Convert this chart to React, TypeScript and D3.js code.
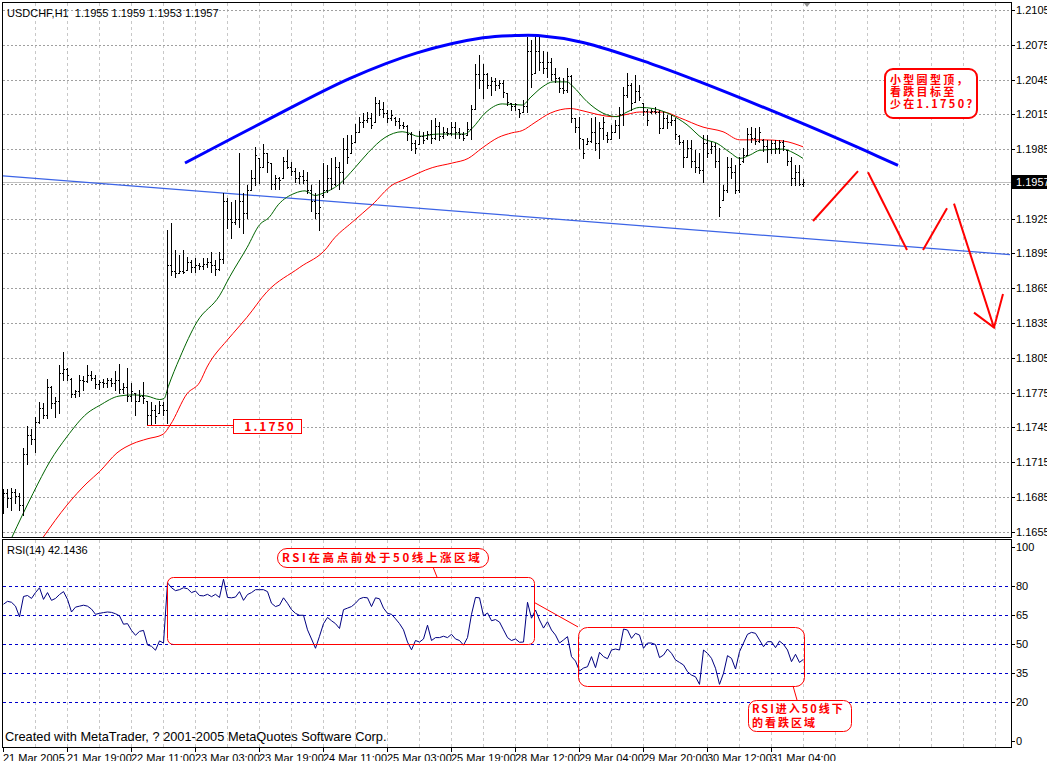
import React from 'react';
import * as d3 from 'd3';

// USDCHF H1 bars: [open, high, low, close]
const bars: [number, number, number, number][] = [
  [1.1685, 1.1692, 1.1671, 1.1688], [1.1688, 1.1692, 1.1676, 1.1684], [1.1684, 1.1693, 1.1674, 1.1689], [1.1689, 1.1692, 1.168, 1.1686],
  [1.1686, 1.1688, 1.1674, 1.1678], [1.1678, 1.1727, 1.1669, 1.1722], [1.1722, 1.1746, 1.1713, 1.1738], [1.1738, 1.1744, 1.1731, 1.1735],
  [1.1735, 1.1754, 1.1724, 1.175], [1.175, 1.1767, 1.1749, 1.1762], [1.1762, 1.1766, 1.1753, 1.1756], [1.1756, 1.1787, 1.1753, 1.178],
  [1.178, 1.1781, 1.1762, 1.1766], [1.1766, 1.1771, 1.1754, 1.1768], [1.1768, 1.1799, 1.1757, 1.1792], [1.1792, 1.181, 1.1786, 1.1795],
  [1.1795, 1.1796, 1.1786, 1.179], [1.1787, 1.1788, 1.1771, 1.1774], [1.1774, 1.1777, 1.1771, 1.1776], [1.1776, 1.179, 1.1772, 1.1786],
  [1.1786, 1.1789, 1.1777, 1.1785], [1.1785, 1.1799, 1.1784, 1.179], [1.179, 1.1794, 1.1786, 1.1788], [1.1788, 1.179, 1.1779, 1.1782],
  [1.1782, 1.1786, 1.1778, 1.1784], [1.1784, 1.1787, 1.178, 1.1783], [1.1783, 1.1788, 1.178, 1.1786], [1.1786, 1.1788, 1.1781, 1.1783],
  [1.1783, 1.1794, 1.1777, 1.1786], [1.1786, 1.18, 1.1775, 1.1778], [1.1778, 1.1783, 1.1775, 1.178], [1.178, 1.1796, 1.1768, 1.1772],
  [1.1772, 1.1783, 1.1768, 1.1776], [1.1775, 1.1775, 1.1756, 1.1768], [1.1768, 1.1777, 1.1768, 1.1772], [1.1772, 1.1784, 1.1766, 1.177],
  [1.1768, 1.1768, 1.1747, 1.1756], [1.1756, 1.1767, 1.1747, 1.176], [1.176, 1.1764, 1.1749, 1.1755], [1.1757, 1.1768, 1.1757, 1.1764],
  [1.1764, 1.1767, 1.1756, 1.176], [1.176, 1.1915, 1.1749, 1.1885], [1.1885, 1.1921, 1.1876, 1.188], [1.188, 1.1898, 1.1875, 1.1878],
  [1.1878, 1.1894, 1.1878, 1.188], [1.188, 1.1898, 1.1878, 1.1879], [1.1881, 1.1892, 1.1881, 1.1888], [1.1888, 1.1889, 1.1879, 1.1883],
  [1.1883, 1.1891, 1.1879, 1.1885], [1.1885, 1.1887, 1.1882, 1.1884], [1.1884, 1.1891, 1.1882, 1.1886], [1.1886, 1.1891, 1.1883, 1.1888],
  [1.1888, 1.1896, 1.1879, 1.1885], [1.1885, 1.1889, 1.1876, 1.1882], [1.1882, 1.1896, 1.1881, 1.189], [1.189, 1.1947, 1.1887, 1.194],
  [1.194, 1.1943, 1.1917, 1.1925], [1.1925, 1.1939, 1.1908, 1.1922], [1.1922, 1.1941, 1.192, 1.1925], [1.1925, 1.1982, 1.1918, 1.194],
  [1.194, 1.1947, 1.1913, 1.193], [1.193, 1.1954, 1.1926, 1.195], [1.195, 1.1967, 1.195, 1.196], [1.196, 1.1987, 1.1954, 1.198],
  [1.1977, 1.1977, 1.1956, 1.197], [1.197, 1.1989, 1.197, 1.1982], [1.1982, 1.1982, 1.1965, 1.1974], [1.1973, 1.1973, 1.1951, 1.1955],
  [1.1955, 1.1963, 1.1951, 1.196], [1.196, 1.1961, 1.1951, 1.1958], [1.196, 1.1978, 1.196, 1.1975], [1.1975, 1.1984, 1.1969, 1.197],
  [1.197, 1.1974, 1.1963, 1.1966], [1.1966, 1.1969, 1.1957, 1.196], [1.196, 1.1965, 1.1956, 1.1962], [1.1962, 1.1967, 1.1956, 1.1958],
  [1.1958, 1.1965, 1.1947, 1.195], [1.195, 1.1954, 1.1932, 1.194], [1.194, 1.1947, 1.1926, 1.193], [1.193, 1.1958, 1.1915, 1.1935],
  [1.1945, 1.1973, 1.1944, 1.195], [1.195, 1.1971, 1.1948, 1.196], [1.196, 1.1977, 1.1951, 1.1955], [1.1955, 1.1978, 1.1954, 1.197],
  [1.197, 1.1974, 1.1951, 1.1965], [1.1965, 1.1995, 1.1956, 1.1985], [1.1985, 1.1997, 1.1973, 1.1978], [1.1982, 1.1997, 1.1982, 1.199],
  [1.1991, 1.2007, 1.1991, 1.2], [1.2, 1.2013, 1.2, 1.2008], [1.2008, 1.2016, 1.2004, 1.201], [1.201, 1.2017, 1.2008, 1.2012],
  [1.2012, 1.2016, 1.2003, 1.2006], [1.2008, 1.203, 1.2008, 1.2025], [1.2025, 1.2027, 1.2014, 1.202], [1.202, 1.2026, 1.2013, 1.2016],
  [1.2016, 1.2019, 1.2008, 1.2012], [1.2012, 1.2019, 1.201, 1.2014], [1.2012, 1.2013, 1.2006, 1.2009], [1.2009, 1.2012, 1.2003, 1.2006],
  [1.2006, 1.2008, 1.2003, 1.2005], [1.2005, 1.2006, 1.1993, 1.1998], [1.1998, 1.2, 1.1984, 1.199], [1.199, 1.1993, 1.1982, 1.1986],
  [1.1989, 1.2001, 1.1989, 1.1996], [1.1996, 1.2, 1.199, 1.1993], [1.1995, 1.2001, 1.1994, 1.1998], [1.1998, 1.201, 1.199, 1.1995],
  [1.1995, 1.2012, 1.1994, 1.2005], [1.2005, 1.2008, 1.1993, 1.1996], [1.1996, 1.2004, 1.1995, 1.2], [1.2, 1.2003, 1.1997, 1.1999],
  [1.1999, 1.2008, 1.1997, 1.2004], [1.2004, 1.2008, 1.1995, 1.2], [1.2, 1.2003, 1.1995, 1.1998], [1.1998, 1.2, 1.1993, 1.1995],
  [1.1997, 1.2008, 1.1997, 1.2002], [1.2002, 1.2023, 1.1994, 1.202], [1.202, 1.2058, 1.202, 1.205], [1.205, 1.2066, 1.2038, 1.2045],
  [1.2045, 1.2058, 1.2029, 1.205], [1.205, 1.2051, 1.2038, 1.204], [1.204, 1.2047, 1.2032, 1.2044], [1.2044, 1.2046, 1.2036, 1.204],
  [1.204, 1.2045, 1.2038, 1.2042], [1.2042, 1.2045, 1.203, 1.2034], [1.2033, 1.2033, 1.2023, 1.2026], [1.2025, 1.2025, 1.2019, 1.2022],
  [1.2022, 1.2025, 1.2019, 1.2024], [1.202, 1.202, 1.2013, 1.2016], [1.2017, 1.2027, 1.2017, 1.2022], [1.2022, 1.2082, 1.2017, 1.207],
  [1.207, 1.2079, 1.2039, 1.205], [1.2051, 1.2082, 1.2051, 1.207], [1.207, 1.2083, 1.2053, 1.206], [1.206, 1.207, 1.2051, 1.2055],
  [1.2055, 1.2069, 1.2047, 1.206], [1.206, 1.2064, 1.2045, 1.205], [1.205, 1.2055, 1.2043, 1.2046], [1.2046, 1.2047, 1.2034, 1.2038],
  [1.2038, 1.2046, 1.2033, 1.2036], [1.2036, 1.2055, 1.2034, 1.2048], [1.2048, 1.2049, 1.2008, 1.2012], [1.2012, 1.2012, 1.2, 1.2004],
  [1.2004, 1.2013, 1.1986, 1.1995], [1.1994, 1.1994, 1.1977, 1.1982], [1.1989, 1.1995, 1.1989, 1.1992], [1.1992, 1.2012, 1.1991, 1.2],
  [1.2, 1.2013, 1.1984, 1.199], [1.199, 1.2008, 1.1977, 1.2003], [1.2003, 1.2013, 1.1994, 1.2008], [1.1997, 1.2, 1.1991, 1.1994],
  [1.1994, 1.2006, 1.1994, 1.2], [1.2, 1.201, 1.2, 1.2006], [1.2006, 1.2021, 1.1995, 1.2015], [1.2015, 1.2039, 1.2006, 1.2032],
  [1.2032, 1.2051, 1.203, 1.204], [1.204, 1.2042, 1.2019, 1.2025], [1.2026, 1.2049, 1.2026, 1.2035], [1.2035, 1.204, 1.2027, 1.203],
  [1.2025, 1.2025, 1.2014, 1.2018], [1.2018, 1.202, 1.2006, 1.201], [1.2017, 1.202, 1.2016, 1.2018], [1.2018, 1.2021, 1.2016, 1.2017],
  [1.2017, 1.2019, 1.1999, 1.2003], [1.2003, 1.2017, 1.2003, 1.2012], [1.2012, 1.2014, 1.2003, 1.2008], [1.2008, 1.2014, 1.2006, 1.201],
  [1.201, 1.2012, 1.1994, 1.1998], [1.1996, 1.1997, 1.1989, 1.1991], [1.1991, 1.1993, 1.197, 1.1978], [1.1978, 1.1993, 1.1978, 1.1986],
  [1.1986, 1.1993, 1.197, 1.1975], [1.1975, 1.1984, 1.1965, 1.197], [1.197, 1.1982, 1.1964, 1.1967], [1.1967, 1.1997, 1.1957, 1.199],
  [1.199, 1.1997, 1.1978, 1.1982], [1.1985, 1.1991, 1.1982, 1.1988], [1.1988, 1.199, 1.197, 1.1975], [1.1975, 1.1986, 1.1927, 1.1935],
  [1.1941, 1.1954, 1.1941, 1.195], [1.195, 1.1978, 1.1948, 1.197], [1.197, 1.1977, 1.196, 1.1965], [1.1965, 1.1971, 1.1947, 1.195],
  [1.195, 1.1978, 1.1948, 1.1972], [1.1975, 1.1986, 1.1974, 1.198], [1.198, 1.2003, 1.198, 1.1998], [1.1998, 1.2004, 1.1991, 1.1995],
  [1.1995, 1.2003, 1.1989, 1.1992], [1.1992, 1.2004, 1.1991, 1.2], [1.1993, 1.1994, 1.1983, 1.1988], [1.1988, 1.1993, 1.1974, 1.1985],
  [1.1985, 1.1993, 1.1982, 1.199], [1.199, 1.1993, 1.1982, 1.1986], [1.1986, 1.1993, 1.1982, 1.1991], [1.1991, 1.1993, 1.1984, 1.1988],
  [1.1984, 1.1984, 1.1971, 1.1975], [1.1975, 1.1978, 1.1954, 1.196], [1.196, 1.1971, 1.1954, 1.1965], [1.1965, 1.1971, 1.1954, 1.1955],
  [1.1955, 1.1959, 1.1953, 1.1957],
];

// moving averages sampled along the lines: [bar index, price]
const fastMa: [number, number][] = [
  [2.2, 1.165], [7.5, 1.1688], [11.8, 1.1716], [16, 1.1737], [21, 1.1757], [24.2, 1.1764], [29, 1.1772], [32.5, 1.1773],
  [36, 1.1772], [39.2, 1.1769], [40.3, 1.177], [41.3, 1.178], [44.2, 1.1805], [48.5, 1.1836], [54.2, 1.1859], [56.7, 1.1875],
  [61, 1.19], [64.2, 1.192], [66.5, 1.1926], [68.8, 1.1937], [73, 1.1947], [75.5, 1.1949], [78, 1.1945], [80, 1.1947],
  [83.8, 1.1954], [88, 1.1969], [91.3, 1.1982], [95.5, 1.1995], [99.8, 1.2], [101.3, 1.1999], [103.8, 1.1996], [108.8, 1.1998],
  [115.5, 1.1998], [117.3, 1.2003], [120.5, 1.2016], [124.8, 1.2024], [129.8, 1.2023], [132, 1.203], [135, 1.2039], [137.5, 1.2043],
  [141, 1.2043], [142.5, 1.2039], [146, 1.2026], [150, 1.2016], [153.5, 1.2013], [156, 1.2017], [159.2, 1.2021], [162.5, 1.202],
  [166.8, 1.2015], [171, 1.2006], [175, 1.1994], [178.5, 1.199], [181.8, 1.1982], [184.2, 1.1977], [186.8, 1.198], [189.2, 1.1984],
  [195, 1.1985], [197.5, 1.1982], [200, 1.1977],
];

const slowMa: [number, number][] = [
  [10, 1.165], [16, 1.1678], [21, 1.1697], [24.2, 1.1707], [28.5, 1.1723], [32.5, 1.1731], [36, 1.1735], [40, 1.1739],
  [41.8, 1.1747], [46, 1.1774], [49.2, 1.1784], [51, 1.1797], [56, 1.182], [57.5, 1.1826], [61, 1.184], [66, 1.1862],
  [74.2, 1.1883], [81, 1.19], [82.3, 1.1906], [87.3, 1.1922], [92.3, 1.1937], [97.3, 1.1954], [100.5, 1.1959], [107.3, 1.1969],
  [112.3, 1.1973], [116.3, 1.1977], [119.8, 1.1986], [123.8, 1.1995], [127.2, 1.1999], [129.8, 1.2001], [133, 1.2008], [136.8, 1.2016],
  [141.8, 1.202], [145, 1.2018], [148.5, 1.2015], [152.5, 1.2013], [156, 1.2015], [159.2, 1.2017], [165, 1.2017], [169.2, 1.2012],
  [175, 1.2004], [180, 1.2], [184.2, 1.1993], [190, 1.1993], [195, 1.1992], [200, 1.1987],
];

// RSI(14), one value per bar
const rsiValues = [
  70.5, 72, 71.5, 69.5, 64, 74.5, 75, 73.5, 76.5, 79, 73, 76.5, 72.5, 73.5, 75.5, 77, 73, 66.5, 69, 69.5,
  70, 69.5, 68, 65.3, 65.8, 66.2, 66.5, 66.3, 65.6, 64.5, 60.2, 60.5, 57, 54.5, 56.5, 57, 49.5, 48.8, 46.8, 51.6,
  50.5, 81.5, 79, 77.5, 78, 79, 78.5, 76.5, 77.3, 75, 74.8, 75.6, 74.4, 75.6, 74, 83.4, 74, 73.8, 74.2, 77,
  72.5, 75.5, 76.5, 78, 78, 78, 77, 71, 69.3, 70, 73.8, 71, 67.7, 65.8, 64.8, 64.8, 57.3, 52.6, 47.8, 54,
  60.5, 63.7, 62, 60.5, 58, 67.7, 68.5, 69.3, 71, 73.3, 74, 73.8, 69.3, 73.8, 73.3, 68.5, 65.8, 65.3, 63, 60.5,
  57.3, 51, 47, 51.8, 51, 52.6, 59.7, 51.8, 53.3, 53.3, 54, 53.3, 55, 52.6, 51.8, 49.4, 53.3, 65.3, 74, 73.8,
  64.5, 66, 62, 62.6, 61.3, 57.3, 53.3, 51.8, 52.6, 50.9, 51, 71.5, 63.3, 67.5, 62.4, 58.2, 61.5, 57.2, 54.6, 50.5,
  52.1, 53.8, 43.5, 41.2, 36.1, 37.6, 38.3, 43.5, 37.8, 45.7, 43.5, 42.4, 46.9, 47.4, 46.9, 57.7, 57.2, 52.9, 55.5, 54.6,
  47.8, 50.5, 50.5, 49.7, 43, 44.3, 47.4, 45.2, 41.8, 40.5, 39.2, 35.7, 34, 33.1, 29.2, 46.9, 45.2, 42.6, 37.5, 29.2,
  34.9, 44, 42.6, 37.1, 46, 50.5, 55, 56, 55.5, 52.1, 48.6, 51.2, 51.2, 48.1, 51.5, 49.8, 46.9, 40.9, 44.7, 40.5,
  42.1,
];

const priceTicks = [1.2105, 1.2075, 1.2045, 1.2015, 1.1985, 1.1955, 1.1925, 1.1895, 1.1865, 1.1835, 1.1805, 1.1775, 1.1745, 1.1715, 1.1685, 1.1655];
const rsiLevels = [80, 65, 50, 35, 20];
const rsiTicks = [100, 80, 65, 50, 35, 20, 0];
const timeLabels = [
  '21 Mar 2005', '21 Mar 19:00', '22 Mar 11:00', '23 Mar 03:00', '23 Mar 19:00', '24 Mar 11:00', '25 Mar 03:00',
  '25 Mar 19:00', '28 Mar 12:00', '29 Mar 04:00', '29 Mar 20:00', '30 Mar 12:00', '31 Mar 04:00',
];

// drawn objects: [bar index, price]
const roundTop: [number, number][] = [
  [45.5, 1.1973], [66, 1.201], [86.75, 1.2046], [103.5, 1.2068], [120, 1.2081], [128, 1.2083], [133.75, 1.2083],
  [145, 1.2077], [161.75, 1.2059], [174.25, 1.2043], [199.25, 1.2008], [216, 1.1983], [223.75, 1.1971],
];
const trendLine: [number, number][] = [[0, 1.1962], [251.75, 1.1894]];
const forecast: [number, number][][] = [
  [[202.5, 1.1923], [213.75, 1.1966]],
  [[216.25, 1.1965], [226, 1.1898]],
  [[230, 1.1898], [236, 1.1934]],
  [[237.75, 1.1938], [247.75, 1.1831]],
  [[242.75, 1.1844], [247.75, 1.1831], [250, 1.186]],
];
const supportLevel = 1.1747;
const supportSpan = [36, 57.5];
const lastPrice = 1.1957;
const rsiZones = [
  { from: 41, to: 132.75, top: 84.5, bottom: 50 },
  { from: 143.75, to: 200.25, top: 58.8, bottom: 28.4 },
];

const W = 1047;
const H = 761;
const AXIS_X = 1011;
const MAIN_BOTTOM = 537;
const RSI_TOP = 539;
const RSI_BOTTOM = 747;
const FONT = '"Liberation Sans", Arial, sans-serif';
const CJK = '"Noto Sans CJK SC", sans-serif';

export default function App() {
  const x = d3.scaleLinear().domain([0, 251.75]).range([3, 1010]);
  const yP = d3.scaleLinear().domain([1.1655, 1.2105]).range([531.7, 10]);
  const yR = d3.scaleLinear().domain([0, 100]).range([741, 547]);

  const priceLine = d3
    .line<[number, number]>()
    .x((d) => x(d[0]))
    .y((d) => yP(d[1]))
    .curve(d3.curveMonotoneX);
  const straight = d3
    .line<[number, number]>()
    .x((d) => x(d[0]))
    .y((d) => yP(d[1]));
  const arcLine = d3
    .line<[number, number]>()
    .x((d) => x(d[0]))
    .y((d) => yP(d[1]))
    .curve(d3.curveCatmullRom);
  const rsiLine = d3
    .line<number>()
    .x((_, i) => x(i) + 0.5)
    .y((d) => yR(d));

  const gridX = d3.range(8, 252, 8).map((i) => Math.round(x(i)) + 0.5);
  const px = (v: number) => Math.round(v) + 0.5;

  return (
    <svg
      width={W}
      height={H}
      style={{ position: 'absolute', left: 0, top: 0, background: '#fff' }}
      fontFamily={FONT}
    >
      <defs>
        <clipPath id="mainClip">
          <rect x={3} y={3} width={AXIS_X - 3} height={MAIN_BOTTOM - 3} />
        </clipPath>
        <clipPath id="rsiClip">
          <rect x={3} y={RSI_TOP + 1} width={AXIS_X - 3} height={RSI_BOTTOM - RSI_TOP - 1} />
        </clipPath>
      </defs>
      <rect x={0} y={0} width={W} height={H} fill="#fff" />

      {/* grid */}
      <g shapeRendering="crispEdges">
        {gridX.map((gx) => (
          <g key={gx}>
            <line x1={gx} x2={gx} y1={3} y2={MAIN_BOTTOM} stroke="#c8c8c8" strokeDasharray="3,3" />
            <line x1={gx} x2={gx} y1={RSI_TOP + 1} y2={RSI_BOTTOM} stroke="#c8c8c8" strokeDasharray="3,3" />
          </g>
        ))}
        {priceTicks.map((p) => (
          <line key={p} x1={3} x2={AXIS_X} y1={px(yP(p))} y2={px(yP(p))} stroke="#a0a0a0" strokeDasharray="2,2" />
        ))}
        {rsiLevels.map((v) => (
          <line key={v} x1={3} x2={AXIS_X} y1={px(yR(v))} y2={px(yR(v))} stroke="#0000cc" strokeDasharray="3,3" />
        ))}
        <line x1={3} x2={AXIS_X} y1={px(yP(lastPrice))} y2={px(yP(lastPrice))} stroke="#c0c0c0" />
      </g>

      {/* main panel */}
      <g clipPath="url(#mainClip)">
        <path d={straight(trendLine) ?? ''} fill="none" stroke="#3c64e6" strokeWidth={1.2} />
        <path d={priceLine(slowMa) ?? ''} fill="none" stroke="#ff0000" strokeWidth={1} />
        <path d={priceLine(fastMa) ?? ''} fill="none" stroke="#006400" strokeWidth={1} />
        <g shapeRendering="crispEdges" fill="#000">
          {bars.map(([o, h, l, c], i) => {
            const bx = Math.round(x(i));
            const yh = Math.round(yP(h));
            const yl = Math.round(yP(l));
            return (
              <g key={i}>
                <rect x={bx} y={yh} width={1} height={Math.max(1, yl - yh + 1)} />
                <rect x={bx - 1} y={Math.round(yP(o))} width={1} height={1} />
                <rect x={bx + 1} y={Math.round(yP(c))} width={1} height={1} />
              </g>
            );
          })}
        </g>
        <path d={arcLine(roundTop) ?? ''} fill="none" stroke="#0000ff" strokeWidth={3} />
        {forecast.map((seg, k) => (
          <path key={k} d={straight(seg) ?? ''} fill="none" stroke="#ff0000" strokeWidth={2} />
        ))}
        <line
          x1={x(supportSpan[0])}
          x2={x(supportSpan[1])}
          y1={px(yP(supportLevel))}
          y2={px(yP(supportLevel))}
          stroke="#ff0000"
          strokeWidth={1}
        />
      </g>

      {/* 1.1750 label */}
      <rect x={x(supportSpan[1]) + 0.5} y={419.5} width={68} height={14} fill="#fff" stroke="#ff0000" />
      <text x={x(supportSpan[1]) + 37} y={431} textAnchor="middle" fontFamily={CJK} fontWeight="bold" fontSize={12} fill="#ff0000" letterSpacing={2}>
        1.1750
      </text>

      {/* callout */}
      <rect x={885} y={69} width={92} height={49} rx={8} fill="#fff" stroke="#ff0000" strokeWidth={2} />
      <g fontFamily={CJK} fontWeight="bold" fontSize={11} fill="#ff0000" letterSpacing={2.3}>
        <text x={890} y={84}>小型圆型顶，</text>
        <text x={890} y={96}>看跌目标至</text>
        <text x={890} y={108}>少在1.1750？</text>
      </g>

      {/* shift marker */}
      <polygon points="803,2 811,2 807,7" fill="#909090" />

      {/* RSI panel */}
      <g clipPath="url(#rsiClip)">
        <path d={rsiLine(rsiValues) ?? ''} fill="none" stroke="#000080" strokeWidth={1} />
        {rsiZones.map((z, k) => (
          <rect
            key={k}
            x={px(x(z.from))}
            y={px(yR(z.top))}
            width={Math.round(x(z.to) - x(z.from))}
            height={Math.round(yR(z.bottom) - yR(z.top))}
            rx={k === 0 ? 6 : 9}
            fill="none"
            stroke="#ff0000"
          />
        ))}
        <line x1={x(rsiZones[0].to)} y1={yR(71.5)} x2={x(rsiZones[1].from)} y2={yR(58.8)} stroke="#ff0000" />
        <line x1={433} y1={567} x2={437} y2={yR(84.5)} stroke="#ff0000" />
        <line x1={793} y1={yR(28.4)} x2={797} y2={700} stroke="#ff0000" />
        <rect x={277.5} y={548.5} width={211} height={19} rx={9.5} fill="#fff" stroke="#ff0000" />
        <text x={282} y={562} fontFamily={CJK} fontWeight="bold" fontSize={11.5} fill="#ff0000" letterSpacing={2.6}>
          RSI在高点前处于50线上涨区域
        </text>
        <rect x={748.5} y={700.5} width={103} height={31} rx={8} fill="#fff" stroke="#ff0000" />
        <g fontFamily={CJK} fontWeight="bold" fontSize={11} fill="#ff0000" letterSpacing={2}>
          <text x={752} y={713}>RSI进入50线下</text>
          <text x={752} y={727}>的看跌区域</text>
        </g>
      </g>

      {/* frames */}
      <g shapeRendering="crispEdges" fill="none" stroke="#000">
        <rect x={2.5} y={2.5} width={AXIS_X - 2} height={MAIN_BOTTOM - 2} />
        <rect x={2.5} y={RSI_TOP + 0.5} width={AXIS_X - 2} height={RSI_BOTTOM - RSI_TOP} />
        {priceTicks.map((p) => (
          <line key={p} x1={AXIS_X} x2={AXIS_X + 4} y1={px(yP(p))} y2={px(yP(p))} />
        ))}
        {rsiTicks.map((v) => (
          <line key={v} x1={AXIS_X} x2={AXIS_X + 4} y1={px(yR(v))} y2={px(yR(v))} />
        ))}
        {timeLabels.map((_, k) => (
          <line key={k} x1={px(x(k * 16))} x2={px(x(k * 16))} y1={RSI_BOTTOM} y2={RSI_BOTTOM + 5} />
        ))}
      </g>

      {/* axis labels */}
      <g fontSize={11} fill="#000">
        {priceTicks.map((p) => (
          <text key={p} x={1016} y={yP(p) + 4}>
            {p.toFixed(4)}
          </text>
        ))}
        {rsiTicks.map((v) => (
          <text key={v} x={1016} y={yR(v) + 4}>
            {v}
          </text>
        ))}
        {timeLabels.map((t, k) => (
          <text key={t} x={x(k * 16)} y={762}>
            {t}
          </text>
        ))}
      </g>
      <rect x={1012} y={175} width={35} height={14} fill="#000" />
      <text x={1016} y={186} fontSize={11} fill="#fff">
        {lastPrice.toFixed(4)}
      </text>

      <text x={7} y={17} fontSize={11} fill="#000" style={{ whiteSpace: 'pre' }}>
        {'USDCHF,H1  1.1955 1.1959 1.1953 1.1957'}
      </text>
      <text x={7} y={554} fontSize={11} fill="#000">
        RSI(14) 42.1436
      </text>
      <text x={5} y={741} fontSize={12.8} fill="#000">
        Created with MetaTrader, ? 2001-2005 MetaQuotes Software Corp.
      </text>
    </svg>
  );
}
